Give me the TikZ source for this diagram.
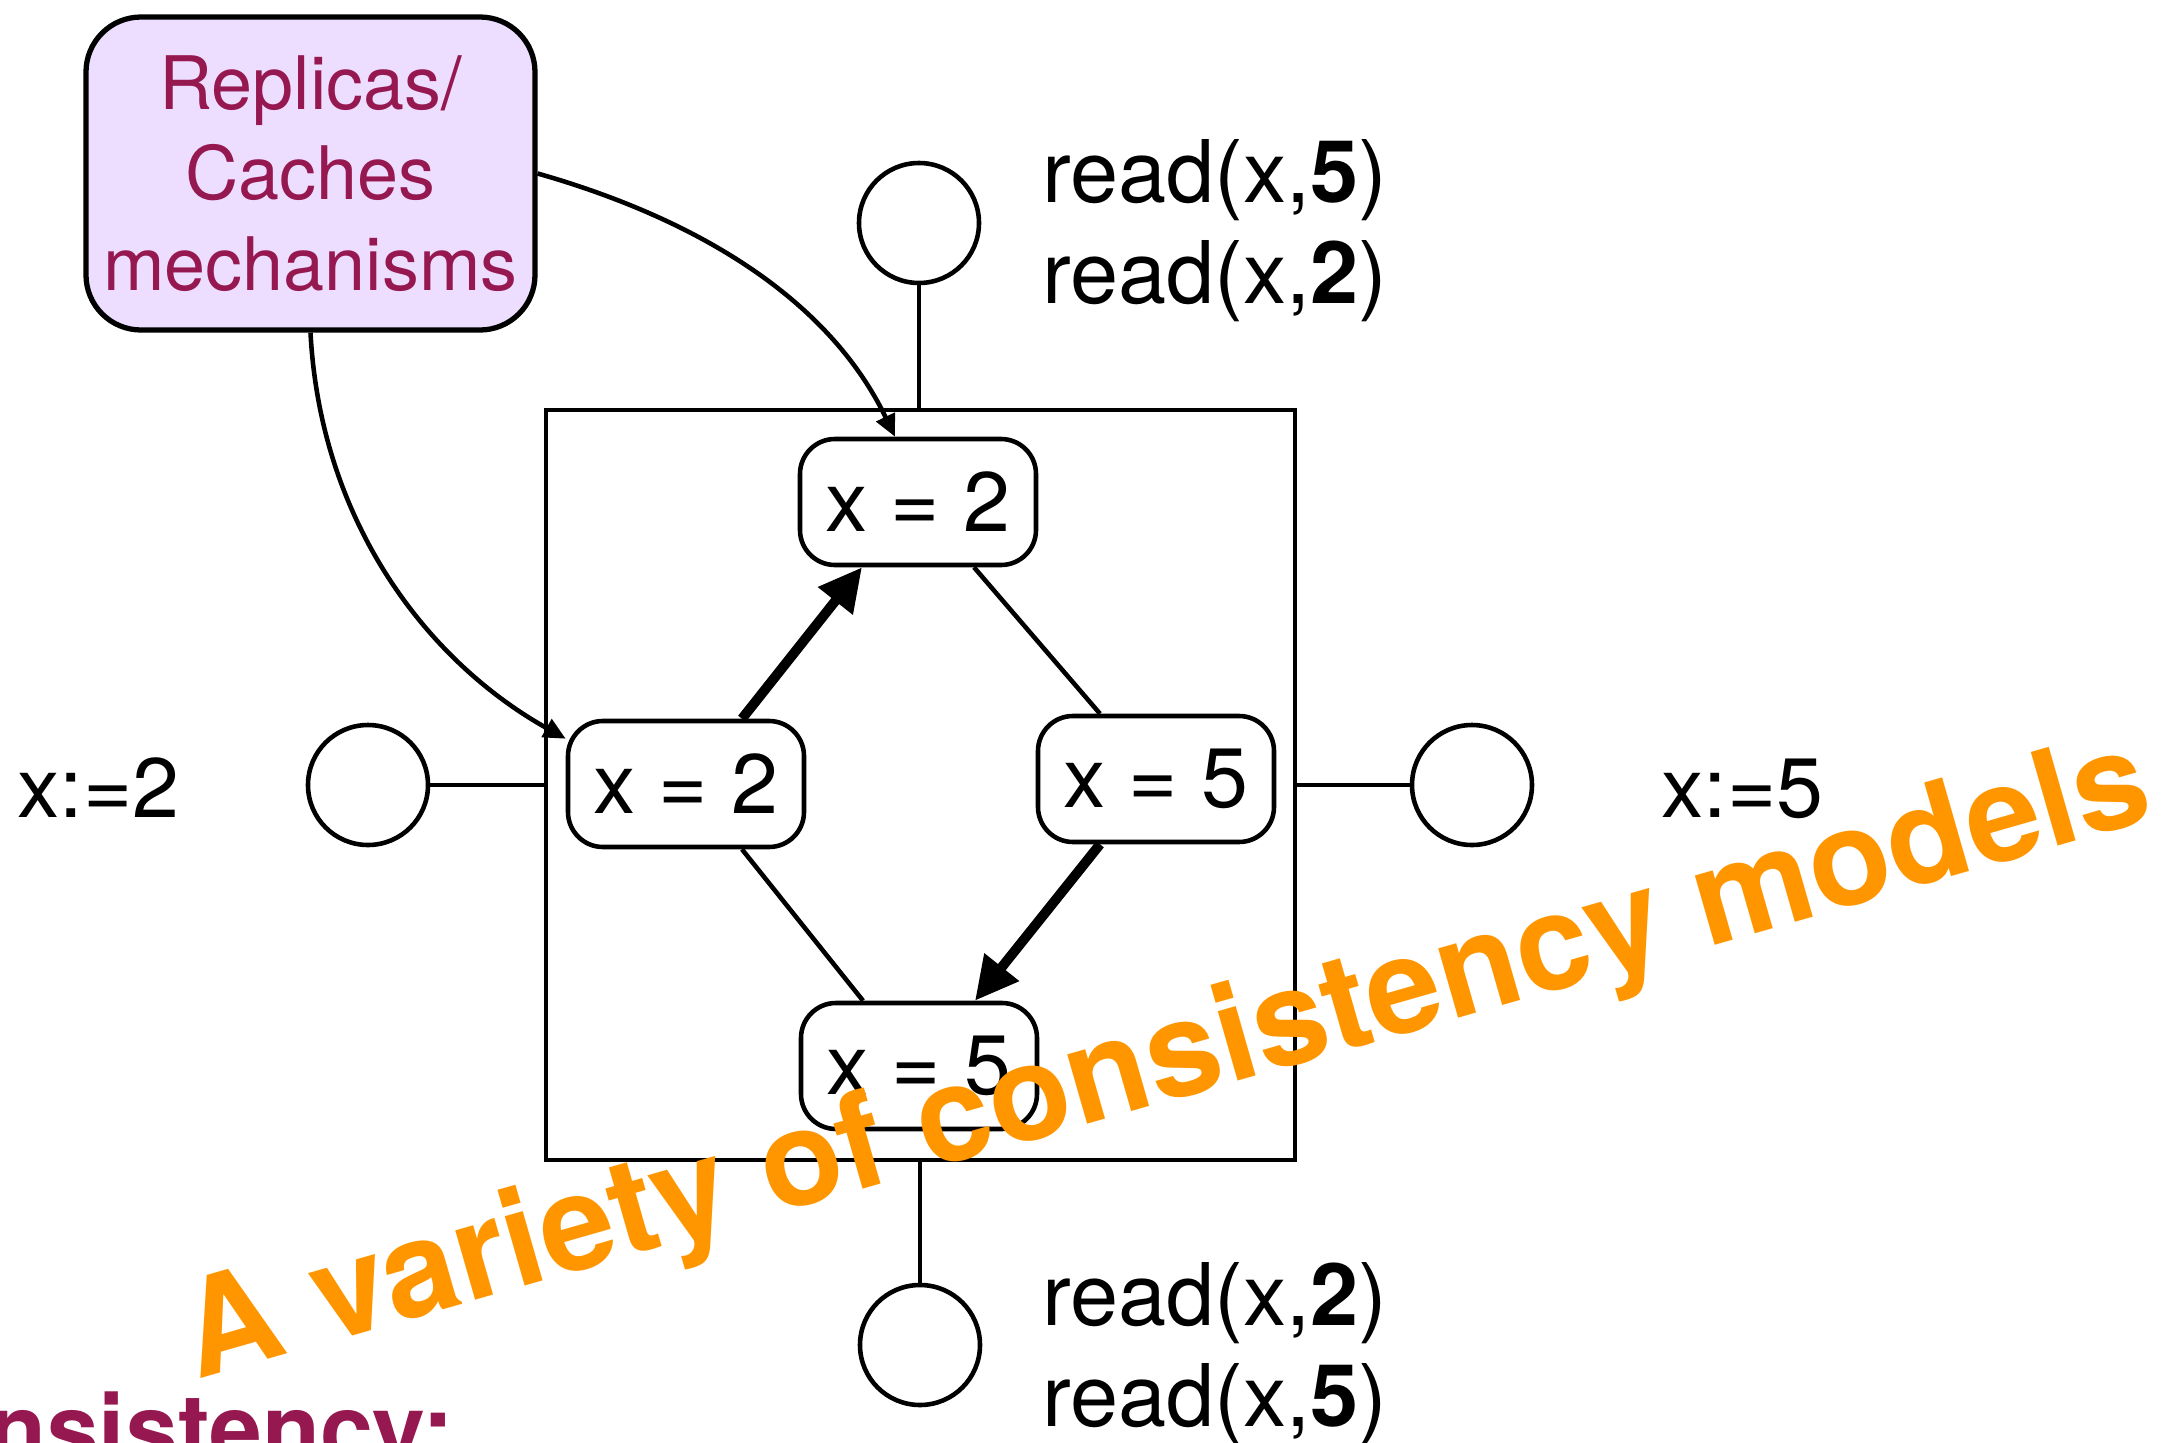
\documentclass[tikz,border=0pt]{standalone}
\usepackage{fontspec}
\setmainfont{TeX Gyre Heros}
\usetikzlibrary{arrows.meta}

\definecolor{mechfill}{RGB}{237,222,255}
\definecolor{mechtext}{RGB}{150,24,80}
\definecolor{bannerorange}{RGB}{255,150,0}

\begin{document}
\begin{tikzpicture}
        % Define styles for shapes
        \tikzstyle{mech} = [draw, line width=1.5pt, fill=mechfill, rounded corners=0.55cm, minimum width=4.49cm, minimum height=3.13cm, inner sep=0pt, align=center, text=mechtext, font=\fontsize{21}{25.8}\selectfont]
        \tikzstyle{replica} = [draw, line width=1.3pt, rounded corners=0.35cm, minimum width=2.36cm, minimum height=1.26cm, inner sep=0pt, font=\fontsize{24}{29}\selectfont]
        \tikzstyle{proc} = [draw, circle, line width=1.3pt, minimum size=1.2cm, inner sep=0pt]
        \tikzstyle{store} = [draw, line width=1.3pt, minimum width=7.49cm, minimum height=7.5cm, inner sep=0pt]
        \tikzstyle{op} = [anchor=base west, inner sep=0pt, font=\fontsize{24}{29}\selectfont]
        \tikzstyle{link} = [line width=1.3pt]
        \tikzstyle{order} = [line width=2.8pt, -{Triangle[length=0.43cm,width=0.42cm]}]
        \tikzstyle{update} = [line width=1.3pt, -{Triangle[length=0.22cm,width=0.2cm]}]

        \useasboundingbox (0,0) rectangle (21.75,-14.43);
        \clip (0,0) rectangle (21.75,-14.43);

        % Draw shapes
        \node[store] (store) at (9.205,-7.85) {};
        \node[mech] (mech) at (3.105,-1.735) {Replicas/\\Caches\\mechanisms};

        \node[replica] (vtop) at (9.18,-5.02) {x = 2};
        \node[replica] (vleft) at (6.86,-7.84) {x = 2};
        \node[replica] (vright) at (11.56,-7.79) {x = 5};
        \node[replica] (vbot) at (9.19,-10.66) {x = 5};

        \node[proc] (ptop) at (9.19,-2.23) {};
        \node[proc] (pleft) at (3.68,-7.85) {};
        \node[proc] (pright) at (14.72,-7.85) {};
        \node[proc] (pbot) at (9.20,-13.45) {};

        % operations of each process
        \node[op] (wleft) at (0.17,-8.17) {x:=2};
        \node[op] (wright) at (16.61,-8.17) {x:=5};
        \node[op, font=\fontsize{24.6}{29}\selectfont] (optop) at (10.42,-2.02) {
            \begin{tabular}[t]{@{}l@{}}
                read(x,\textbf{5}) \\
                read(x,\textbf{2}) \\
            \end{tabular}
        };
        \node[op, font=\fontsize{24.6}{29}\selectfont] (opbot) at (10.42,-13.25) {
            \begin{tabular}[t]{@{}l@{}}
                read(x,\textbf{2}) \\
                read(x,\textbf{5}) \\
            \end{tabular}
        };

        \node[anchor=base west, inner sep=0pt, text=mechtext, font=\bfseries\fontsize{27}{32}\selectfont] (heading) at (-1.39,-14.62) {Consistency:};

        % Draw arrows
        \draw[link] (ptop) -- (ptop |- store.north);
        \draw[link] (pbot) -- (pbot |- store.south);
        \draw[link] (pleft) -- (pleft -| store.west);
        \draw[link] (pright) -- (pright -| store.east);

        \draw[order] ([xshift=0.56cm]vleft.north) -- ([xshift=-0.56cm]vtop.south);
        \draw[order] ([xshift=-0.56cm]vright.south) -- ([xshift=0.56cm]vbot.north);
        \draw[link] ([xshift=0.56cm]vtop.south) -- ([xshift=-0.56cm]vright.north);
        \draw[link] ([xshift=0.56cm]vleft.south) -- ([xshift=-0.56cm]vbot.north);

        % mechanisms keeping the replicas up to date
        \draw[update] (mech.east) .. controls +(1.65,-0.47) and +(-0.65,1.35) .. ([xshift=-0.23cm]vtop.north);
        \draw[update] (mech.south) .. controls +(0.1,-1.9) and +(-1.38,0.77) .. ([yshift=-0.2cm]vleft.north west);

        \node[rotate=16, anchor=base west, inner sep=0pt, text=bannerorange, font=\bfseries\fontsize{38}{45}\selectfont] (banner) at (1.97,-13.80) {A variety of consistency models};
    \end{tikzpicture}
\end{document}
